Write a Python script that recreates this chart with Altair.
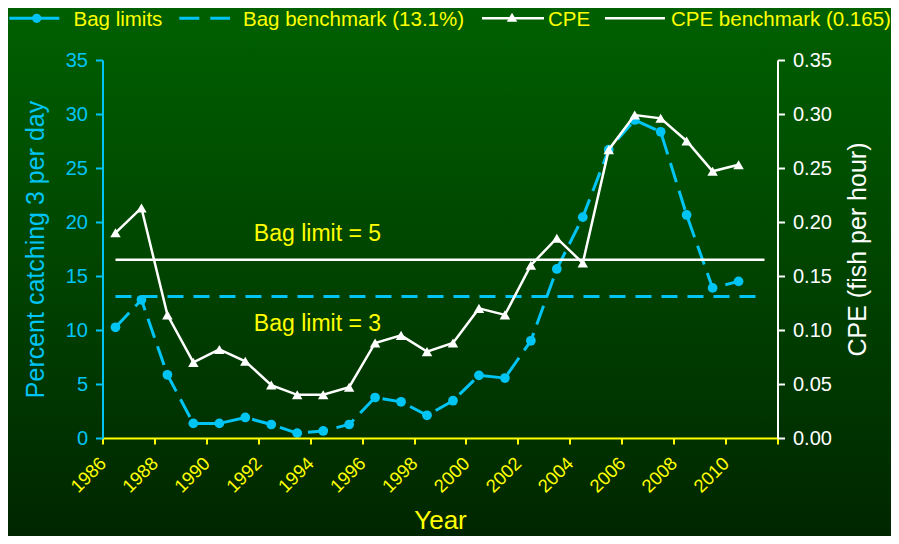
import altair as alt
import pandas as pd

# ---------------- data ----------------
years = list(range(1986, 2011))
bag_limits = [10.25, 12.8, 5.85, 1.35, 1.35, 1.9, 1.25, 0.45, 0.65, 1.25,
              3.75, 3.35, 2.1, 3.45, 5.8, 5.55, 9.0, 15.65, 20.45, 26.7,
              29.45, 28.35, 20.65, 13.9, 14.5]
cpe = [0.19, 0.213, 0.114, 0.070, 0.082, 0.071, 0.049, 0.040, 0.040, 0.047,
       0.088, 0.095, 0.080, 0.088, 0.120, 0.114, 0.160, 0.185, 0.162, 0.267,
       0.299, 0.296, 0.275, 0.247, 0.253]
bag_benchmark = [13.1]
cpe_benchmark = [0.165]
benchmark_start = [1986]
benchmark_end = [2011]
legend_labels = ["Bag limits", "Bag benchmark (13.1%)", "CPE", "CPE benchmark (0.165)"]
annotation_texts = ["Bag limit = 5", "Bag limit = 3"]
annotation_year = [1993.78, 1993.78]
annotation_value = [18.2, 9.95]
left_ticks = [0, 5, 10, 15, 20, 25, 30, 35]
right_ticks = [0, 0.05, 0.10, 0.15, 0.20, 0.25, 0.30, 0.35]
x_tick_edges = [1985.5 + i for i in range(27)]

# ---------------- style ----------------
FONT = "Liberation Sans"
CYAN = "#00c4f4"
YELLOW = "#ffff00"
WHITE = "#ffffff"
W, H = 675, 378

df = pd.DataFrame({"year": years, "bag": bag_limits, "cpe": cpe})
bench_bag = pd.DataFrame({"start": benchmark_start, "end": benchmark_end, "v": bag_benchmark})
bench_cpe = pd.DataFrame({"start": benchmark_start, "end": benchmark_end, "v": cpe_benchmark})
ann = pd.DataFrame({"year": annotation_year, "v": annotation_value, "t": annotation_texts})
one = alt.Data(values=[{"a": 1}])

x_scale = alt.Scale(domain=[1985.5, 2011.5], nice=False, zero=False)
x_axis = alt.Axis(
    values=x_tick_edges, grid=False, zindex=1,
    labelExpr="(datum.value + 0.5) % 2 == 0 && datum.value < 2011 ? format(datum.value + 0.5, 'd') : ''",
    labelAngle=-45, labelAlign="right", labelBaseline="middle", labelOverlap=False,
    labelFlush=False, labelColor=YELLOW, labelFontSize=18.5, labelPadding=16, labelFont=FONT,
    domainColor=YELLOW, domainWidth=2, tickColor=YELLOW, tickWidth=2, tickSize=6,
    title="Year", titleColor=YELLOW, titleFontSize=26, titleFontWeight="normal", titleFont=FONT,
    titleY=90, titleBaseline="alphabetic",
)
X = alt.X("year:Q", scale=x_scale, axis=x_axis)
X_plain = alt.X("year:Q", scale=x_scale)

y_left_scale = alt.Scale(domain=[0, 35], nice=False, zero=True)
y_left_axis = alt.Axis(
    orient="left", values=left_ticks, grid=False, zindex=1,
    labelColor=CYAN, labelFontSize=20, labelFont=FONT, labelPadding=8,
    domainColor=CYAN, domainWidth=2, tickColor=CYAN, tickWidth=2, tickSize=7,
    title="Percent catching 3 per day", titleColor=CYAN, titleFontSize=25,
    titleFontWeight="normal", titleFont=FONT, titleAngle=-90,
    titleX=-59, titleBaseline="alphabetic",
)
y_right_scale = alt.Scale(domain=[0, 0.35], nice=False, zero=True)
y_right_axis = alt.Axis(
    orient="right", values=right_ticks, format=".2f", grid=False, zindex=1,
    labelColor=WHITE, labelFontSize=20, labelFont=FONT, labelPadding=8,
    domainColor=WHITE, domainWidth=2, tickColor=WHITE, tickWidth=2, tickSize=7,
    title="CPE (fish per hour)", titleColor=WHITE, titleFontSize=25,
    titleFontWeight="normal", titleFont=FONT, titleAngle=-90,
    titleX=87.5, titleBaseline="alphabetic",
)

# ---------------- background ----------------
grad = alt.Gradient(
    gradient="linear",
    stops=[alt.GradientStop(color="#006000", offset=0),
           alt.GradientStop(color="#002600", offset=1)],
    x1=0, x2=0, y1=0, y2=1,
)
bg = alt.Chart(one).mark_rect(fill=grad, strokeWidth=0).encode(
    x=alt.value(-94.5), x2=alt.value(W + 113.5), y=alt.value(-52), y2=alt.value(H + 98)
)

# ---------------- left series ----------------
bag_line = alt.Chart(df).mark_line(color=CYAN, strokeWidth=3, strokeDash=[20, 9]).encode(
    x=X, y=alt.Y("bag:Q", scale=y_left_scale, axis=y_left_axis)
)
bag_pts = alt.Chart(df).mark_circle(color=CYAN, size=95, opacity=1).encode(
    x=X_plain, y=alt.Y("bag:Q", scale=y_left_scale)
)
bag_bench = alt.Chart(bench_bag).mark_rule(color=CYAN, strokeWidth=3, strokeDash=[16, 10]).encode(
    x=alt.X("start:Q", scale=x_scale), x2="end:Q", y=alt.Y("v:Q", scale=y_left_scale)
)
ann_text = alt.Chart(ann).mark_text(
    color=YELLOW, fontSize=23, font=FONT, align="center", baseline="alphabetic"
).encode(x=alt.X("year:Q", scale=x_scale), y=alt.Y("v:Q", scale=y_left_scale), text="t:N")

# ---------------- legend ----------------
LY = -41.7
leg = []
leg.append(alt.Chart(one).mark_rule(color=CYAN, strokeWidth=3).encode(
    x=alt.value(-93.2), x2=alt.value(-43.2), y=alt.value(LY)))
leg.append(alt.Chart(one).mark_point(shape="circle", filled=True, color=CYAN, size=85, opacity=1).encode(
    x=alt.value(-65.8), y=alt.value(LY)))
leg.append(alt.Chart(one).mark_rule(color=CYAN, strokeWidth=3, strokeDash=[20, 11]).encode(
    x=alt.value(76.8), x2=alt.value(127.5), y=alt.value(LY)))
leg.append(alt.Chart(one).mark_rule(color=WHITE, strokeWidth=2.5).encode(
    x=alt.value(379.5), x2=alt.value(441.5), y=alt.value(LY)))
leg.append(alt.Chart(one).mark_point(shape="triangle-up", filled=True, color=WHITE, size=110, opacity=1).encode(
    x=alt.value(409.5), y=alt.value(LY - 1)))
leg.append(alt.Chart(one).mark_rule(color=WHITE, strokeWidth=2.5).encode(
    x=alt.value(502.5), x2=alt.value(562.5), y=alt.value(LY)))
for label, lx in zip(legend_labels, [-29.0, 140.5, 445.5, 568.5]):
    leg.append(alt.Chart(one).mark_text(
        text=label, color=YELLOW, fontSize=20.5, font=FONT, align="left", baseline="alphabetic"
    ).encode(x=alt.value(lx), y=alt.value(-33.8)))

left = alt.layer(bg, bag_bench, bag_line, bag_pts, ann_text, *leg)

# ---------------- right series ----------------
cpe_bench_rule = alt.Chart(bench_cpe).mark_rule(color=WHITE, strokeWidth=2.5).encode(
    x=alt.X("start:Q", scale=x_scale), x2="end:Q", y=alt.Y("v:Q", scale=y_right_scale, axis=y_right_axis)
)
cpe_line = alt.Chart(df).mark_line(color=WHITE, strokeWidth=2.5).encode(
    x=X_plain, y=alt.Y("cpe:Q", scale=y_right_scale)
)
cpe_pts = alt.Chart(df).mark_point(shape="triangle-up", filled=True, color=WHITE, size=110, opacity=1).encode(
    x=X_plain, y=alt.Y("cpe:Q", scale=y_right_scale)
)
right = alt.layer(cpe_bench_rule, cpe_line, cpe_pts)

chart = alt.layer(left, right).resolve_scale(y="independent").properties(
    width=W, height=H,
    autosize=alt.AutoSizeParams(type="none"),
    padding={"left": 94.5, "top": 52, "right": 113.5, "bottom": 98},
    background="#004400",
).configure_view(stroke=None).configure(font=FONT)

chart.save("out.html", embed_options={"renderer": "svg", "actions": False})
